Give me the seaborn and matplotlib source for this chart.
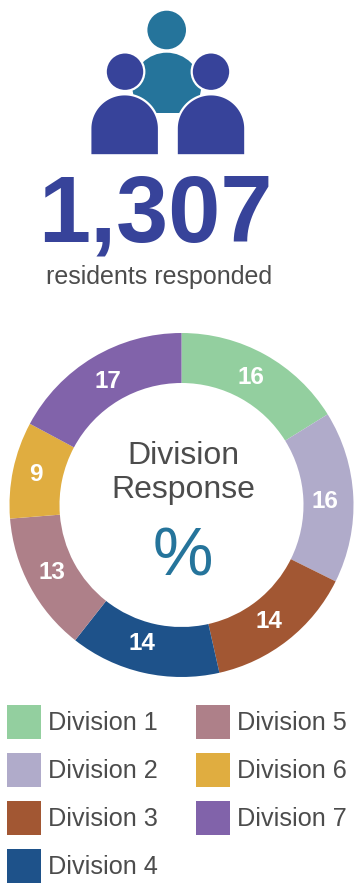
import numpy as np
import matplotlib
matplotlib.use("Agg")
import matplotlib.pyplot as plt
from matplotlib.patches import Circle, Patch, Polygon, Rectangle
import seaborn as sns

# Survey results
divisions = ["Division 1", "Division 2", "Division 3", "Division 4",
             "Division 5", "Division 6", "Division 7"]
response_pct = [16, 16, 14, 14, 13, 9, 17]
division_colors = ["#93CF9F", "#B0ABCA", "#A25733", "#1E528A",
                   "#AE8089", "#E0AD40", "#8163AA"]
residents_total = "1,307"
residents_caption = "residents responded"
center_title = "Division\nResponse"
center_symbol = "%"

BLUE = "#37439A"
TEAL = "#25749B"
GREY = "#4C4C4C"
W, H = 354, 884

sns.set_theme(style="white")
plt.rcParams["font.family"] = ["Liberation Sans", "DejaVu Sans"]

fig = plt.figure(figsize=(W / 100, H / 100), dpi=100, facecolor="white")

# Full-figure canvas measured in pixels, y pointing down
canvas = fig.add_axes([0, 0, 1, 1])
canvas.set_xlim(0, W)
canvas.set_ylim(H, 0)
canvas.axis("off")


def dome(x0, x1, top, bottom, color):
    """Person torso: half disc on top of a short straight section."""
    r = (x1 - x0) / 2
    cx = (x0 + x1) / 2
    t = np.linspace(np.pi, 2 * np.pi, 80)
    arc = np.column_stack([cx + r * np.cos(t), top + r + r * np.sin(t)])
    pts = np.vstack([[x0, bottom], arc, [x1, bottom]])
    canvas.add_patch(Polygon(pts, closed=True, fc=color, ec="white", lw=1.6, zorder=3))


# People icon: teal figure behind two blue ones
canvas.add_patch(Circle((166.7, 30), 19.3, fc=TEAL, ec="none", zorder=1))
back = Circle((166.7, 87), 34.3, fc=TEAL, ec="none", zorder=1)
canvas.add_patch(back)
back.set_clip_path(Rectangle((120, 50), 100, 63.3, transform=canvas.transData))
for head_x, (x0, x1) in zip((125, 211), ((90.3, 159), (176.7, 245.3))):
    canvas.add_patch(Circle((head_x, 71.7), 19.3, fc=BLUE, ec="white", lw=1.6, zorder=3))
    dome(x0, x1, 94.3, 155.3, BLUE)

canvas.text(155.5, 242, residents_total, color=BLUE, fontsize=67.5, fontweight="bold",
            ha="center", va="baseline")
canvas.text(159.5, 277, residents_caption, color=GREY, fontsize=18,
            ha="center", va="center")

# Donut of response share per division
cx, cy, r = 181.5, 505, 172
donut = fig.add_axes([(cx - r) / W, 1 - (cy + r) / H, 2 * r / W, 2 * r / H])
total = sum(response_pct)
wedges, _, labels = donut.pie(
    response_pct,
    colors=sns.color_palette(division_colors),
    startangle=90,
    counterclock=False,
    radius=1,
    wedgeprops={"width": 50 / 172, "linewidth": 0},
    autopct=lambda p: f"{p * total / 100:.0f}",
    pctdistance=0.855,
    textprops={"color": "white", "fontsize": 17.5, "fontweight": "bold"},
)
donut.set_xlim(-1, 1)
donut.set_ylim(-1, 1)
donut.axis("off")

# Small hand placement of the value labels inside their rings (pixels: right, down)
label_nudges = [(-2, 1), (-3, 3), (-3, 1), (-7, -5), (0, -2), (-2, 0), (2, 3)]
for label, (dx, dy) in zip(labels, label_nudges):
    x, y = label.get_position()
    label.set_position((x + dx / r, y - dy / r))

canvas.text(183, 473, center_title, color=GREY, fontsize=23,
            ha="center", va="center", linespacing=1.15)
canvas.text(183, 558, center_symbol, color=TEAL, fontsize=49,
            ha="center", va="center")

# Two-column legend
handles = [Patch(fc=c, ec="none") for c in division_colors]
fig.legend(
    handles, divisions, ncol=2, loc="upper left",
    bbox_to_anchor=(7 / W, 1 - 705 / H), borderaxespad=0, borderpad=0,
    frameon=False,
    handlelength=1.344, handleheight=1.69, handletextpad=0.277,
    labelspacing=0.553, columnspacing=1.50, labelcolor=GREY,
    prop={"size": 18.2},
)

fig.savefig("out.png", dpi=100, facecolor="white")
